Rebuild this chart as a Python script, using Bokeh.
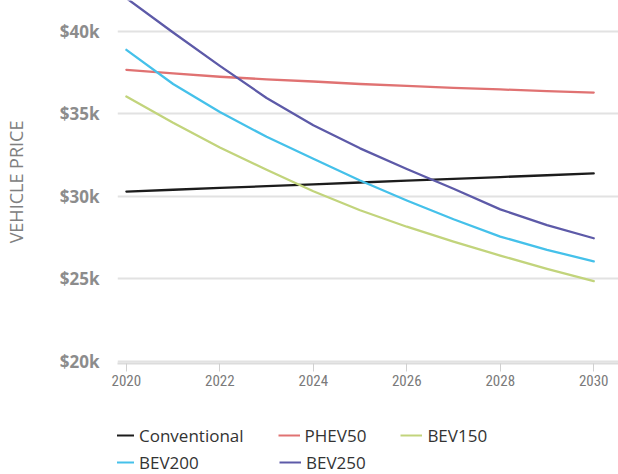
from bokeh.plotting import figure
from bokeh.layouts import column
from bokeh.models import Range1d, FixedTicker, Legend, LegendItem
from bokeh.embed import file_html
from bokeh.resources import INLINE

years = [2020, 2021, 2022, 2023, 2024, 2025, 2026, 2027, 2028, 2029, 2030]
conventional = [30.28, 30.39, 30.50, 30.61, 30.72, 30.83, 30.94, 31.05, 31.16, 31.27, 31.38]
phev50 = [37.66, 37.44, 37.24, 37.08, 36.95, 36.80, 36.68, 36.57, 36.47, 36.37, 36.28]
bev150 = [36.04, 34.45, 32.95, 31.60, 30.30, 29.15, 28.15, 27.25, 26.40, 25.60, 24.85]
bev200 = [38.87, 36.80, 35.10, 33.60, 32.27, 30.95, 29.74, 28.60, 27.55, 26.75, 26.05]
bev250 = [42.00, 39.92, 37.90, 35.95, 34.30, 32.90, 31.65, 30.45, 29.20, 28.25, 27.45]

series_names = ["Conventional", "PHEV50", "BEV150", "BEV200", "BEV250"]
series_values = [conventional, phev50, bev150, bev200, bev250]
series_colors = ["#1c1c1c", "#e07272", "#c2d47c", "#45c1ea", "#5d5aa8"]

x_ticks = [2020, 2022, 2024, 2026, 2028, 2030]
y_ticks = [20, 25, 30, 35, 40]
y_tick_labels = ["$20k", "$25k", "$30k", "$35k", "$40k"]

p = figure(width=618, height=393, output_backend="svg", toolbar_location=None,
           x_range=Range1d(2019.81, 2030.53), y_range=Range1d(19.86, 41.86),
           min_border_left=112, min_border_right=0, min_border_top=0, min_border_bottom=30)
p.outline_line_color = None
p.background_fill_color = "white"
p.border_fill_color = "white"

# grid
p.xgrid.grid_line_color = None
p.ygrid.grid_line_color = "#e2e2e2"
p.ygrid.grid_line_width = 2

# y axis
p.yaxis.ticker = FixedTicker(ticks=y_ticks)
p.yaxis.major_label_overrides = {t: l for t, l in zip(y_ticks, y_tick_labels)}
p.yaxis.axis_line_color = None
p.yaxis.major_tick_line_color = None
p.yaxis.minor_tick_line_color = None
p.yaxis.major_label_standoff = 12
p.yaxis.major_label_text_font = "Open Sans"
p.yaxis.major_label_text_font_style = "bold"
p.yaxis.major_label_text_font_size = "17px"
p.yaxis.major_label_text_color = "#8c8c8c"
p.yaxis.axis_label = "VEHICLE PRICE"
p.yaxis.axis_label_text_font = "Open Sans"
p.yaxis.axis_label_text_font_style = "normal"
p.yaxis.axis_label_text_font_size = "18px"
p.yaxis.axis_label_text_color = "#808080"
p.yaxis.axis_label_standoff = 29

# x axis
p.xaxis.ticker = FixedTicker(ticks=x_ticks)
p.xaxis.axis_line_color = "#dcdcdc"
p.xaxis.axis_line_width = 2
p.xaxis.major_tick_line_color = "#d0d0d0"
p.xaxis.major_tick_line_width = 1
p.xaxis.major_tick_in = 0
p.xaxis.major_tick_out = 8
p.xaxis.minor_tick_line_color = None
p.xaxis.major_label_standoff = 3
p.xaxis.major_label_text_font = "Liberation Sans Narrow, Roboto Condensed, DejaVu Sans Condensed, sans-serif"
p.xaxis.major_label_text_font_size = "15px"
p.xaxis.major_label_text_color = "#7a7a7a"

for name, vals, col in zip(series_names, series_values, series_colors):
    p.line(years, vals, line_color=col, line_width=2.3, line_join="round", line_cap="round")

# legend strip below the chart (its own series renderers stay outside its view)
lp = figure(width=618, height=81, output_backend="svg", toolbar_location=None,
            x_axis_type=None, y_axis_type=None,
            x_range=Range1d(0, 1), y_range=Range1d(0, 1),
            min_border_left=0, min_border_right=0, min_border_top=0, min_border_bottom=0)
lp.grid.visible = False
lp.outline_line_color = None
lp.background_fill_color = "white"
lp.border_fill_color = "white"

swatches = []
for name, vals, col in zip(series_names, series_values, series_colors):
    swatches.append(lp.line(years, vals, line_color=col, line_width=2))

def make_legend(idx, vx, vy, label_width):
    lg = Legend(items=[LegendItem(label=series_names[i], renderers=[swatches[i]]) for i in idx],
                location=(vx, vy), orientation="horizontal")
    lg.glyph_width = 22
    lg.glyph_height = 24
    lg.label_height = 24
    lg.label_width = label_width
    lg.label_standoff = 5
    lg.spacing = 34
    lg.padding = 0
    lg.margin = 0
    lg.border_line_color = None
    lg.background_fill_alpha = 0
    lg.label_text_font = "Open Sans"
    lg.label_text_font_size = "17px"
    lg.label_text_color = "#333333"
    return lg

lp.add_layout(make_legend([0, 1, 2], -5, 27, 0))
lp.add_layout(make_legend([3, 4], -5, 0, 106))

layout = column(p, lp, spacing=0)
open("out.html", "w").write(file_html(layout, INLINE))
